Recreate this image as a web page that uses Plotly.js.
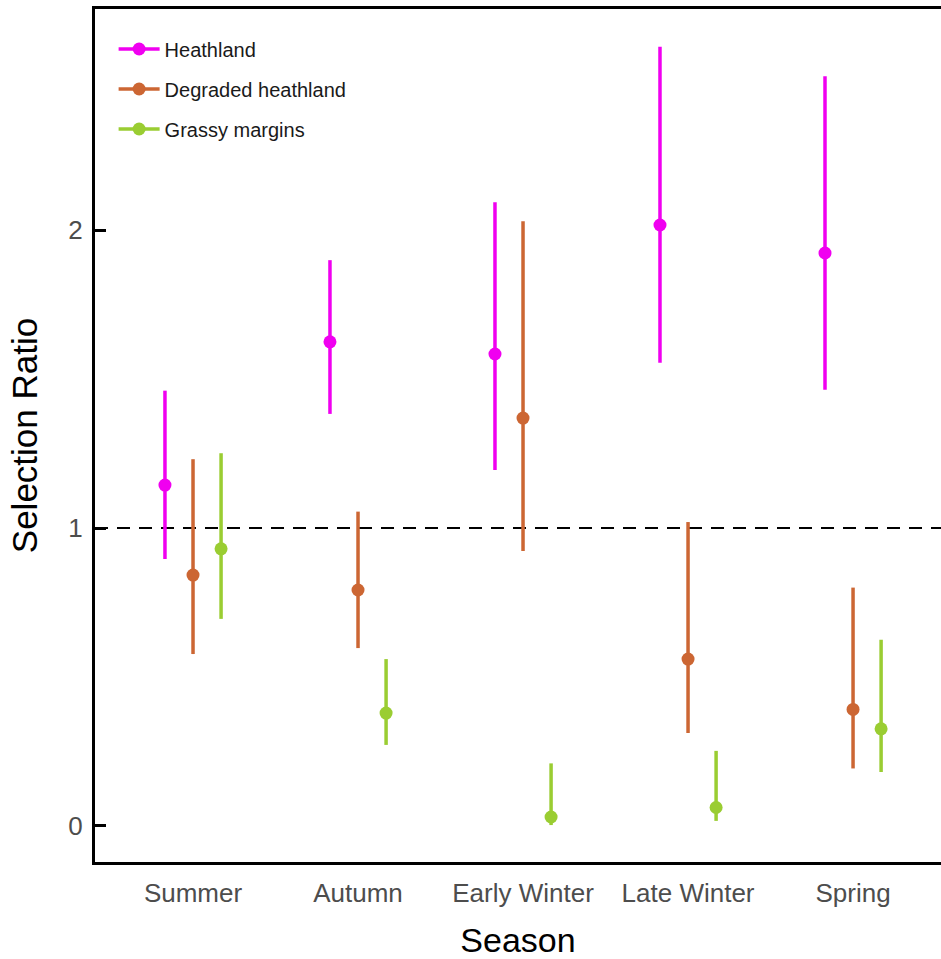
<!DOCTYPE html>
<html>
<head>
<meta charset="utf-8">
<script src="https://cdn.plot.ly/plotly-3.0.1.min.js"></script>
<style>html,body{margin:0;padding:0;background:#fff;}#chart{width:941px;height:959px;}</style>
</head>
<body>
<div id="chart"></div>
<script>
const seasons = ["Summer", "Autumn", "Early Winter", "Late Winter", "Spring"];
const habitats = ["Heathland", "Degraded heathland", "Grassy margins"];
const colors = ["#F000F0", "#CC6633", "#9ACD32"];

const heathMean = [1.144, 1.625, 1.584, 2.017, 1.923];
const heathLow  = [0.896, 1.383, 1.195, 1.555, 1.464];
const heathHigh = [1.461, 1.899, 2.093, 2.615, 2.516];

const degMean = [0.842, 0.792, 1.369, 0.560, 0.391];
const degLow  = [0.577, 0.597, 0.923, 0.312, 0.193];
const degHigh = [1.231, 1.055, 2.030, 1.020, 0.800];

const grassMean = [0.930, 0.379, 0.030, 0.062, 0.326];
const grassLow  = [0.695, 0.272, 0.003, 0.017, 0.181];
const grassHigh = [1.251, 0.560, 0.210, 0.252, 0.625];

const means = [heathMean, degMean, grassMean];
const lows = [heathLow, degLow, grassLow];
const highs = [heathHigh, degHigh, grassHigh];

const dodge = 0.17;
const traces = habitats.map((h, k) => ({
  type: "scatter",
  mode: "markers",
  name: h,
  legendgroup: h,
  showlegend: false,
  x: seasons.map((s, i) => i + (k - 1) * dodge),
  y: means[k],
  marker: {color: colors[k], size: 13},
  error_y: {
    type: "data",
    symmetric: false,
    array: means[k].map((m, i) => highs[k][i] - m),
    arrayminus: means[k].map((m, i) => m - lows[k][i]),
    color: colors[k],
    thickness: 3.5,
    width: 0
  }
}));

// legend-only entries (point + line key, like a pointrange key)
habitats.forEach((h, k) => {
  traces.push({
    type: "scatter",
    mode: "lines+markers",
    name: h,
    legendgroup: h,
    showlegend: true,
    x: [null], y: [null],
    marker: {color: colors[k], size: 13},
    line: {color: colors[k], width: 3.5}
  });
});

const layout = {
  width: 941,
  height: 959,
  margin: {l: 95, r: 0, t: 9, b: 97},
  paper_bgcolor: "#fff",
  plot_bgcolor: "#fff",
  font: {family: "Liberation Sans, Arial, sans-serif"},
  showlegend: true,
  legend: {
    x: 0.022, y: 0.976, xanchor: "left", yanchor: "top",
    font: {size: 20, color: "#1a1a1a"},
    tracegroupgap: 11,
    itemwidth: 41,
    bgcolor: "rgba(0,0,0,0)"
  },
  xaxis: {
    range: [-0.594, 4.533],
    tickvals: seasons.map((s, i) => i),
    ticktext: seasons,
    showgrid: false, zeroline: false,
    showline: true, linecolor: "#000", linewidth: 3, mirror: true,
    ticks: "",
    ticklabelstandoff: 6,
    tickfont: {size: 26, color: "#4d4d4d"},
    title: {text: "Season", font: {size: 34, color: "#000"}, standoff: 33}
  },
  yaxis: {
    range: [-0.121, 2.742],
    tickvals: [0, 1, 2],
    showgrid: false, zeroline: false,
    showline: true, linecolor: "#000", linewidth: 3,
    ticks: "inside", ticklen: 11, tickwidth: 3, tickcolor: "#000",
    ticklabelstandoff: 4,
    tickfont: {size: 26, color: "#4d4d4d"},
    title: {text: "Selection Ratio", font: {size: 35, color: "#000"}, standoff: 21}
  },
  shapes: [{
    type: "line", xref: "paper", x0: 0, x1: 1, yref: "y", y0: 1, y1: 1,
    line: {color: "#000", width: 2, dash: "13px,9px"}, layer: "below"
  }]
};

Plotly.newPlot("chart", traces, layout, {displayModeBar: false, staticPlot: true});
</script>
</body>
</html>
